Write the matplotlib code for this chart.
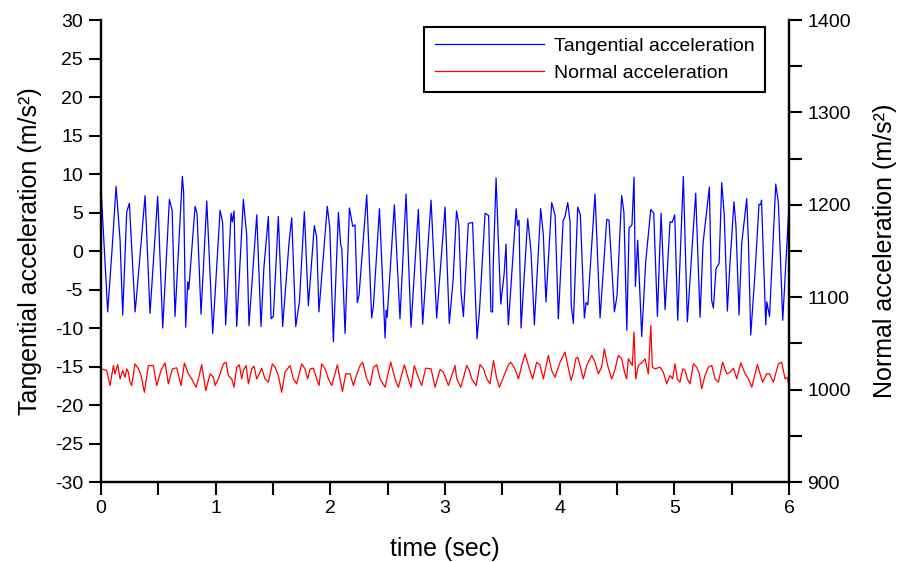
import numpy as np
import matplotlib.pyplot as plt
from matplotlib.ticker import MultipleLocator

plt.rcParams['font.family'] = ['Liberation Sans', 'DejaVu Sans']
plt.rcParams['axes.unicode_minus'] = False

# tangential acceleration (left axis), time in s, value in m/s^2
t_tan = [0.0, 0.058, 0.093, 0.131, 0.166, 0.189, 0.224, 0.247, 0.297, 0.311,
         0.384, 0.427, 0.494, 0.538, 0.596, 0.62, 0.645, 0.709, 0.72, 0.738,
         0.756, 0.765, 0.82, 0.837, 0.872, 0.922, 0.974, 1.038, 1.06, 1.087,
         1.134, 1.145, 1.16, 1.183, 1.241, 1.27, 1.29, 1.358, 1.395, 1.42,
         1.459, 1.483, 1.503, 1.546, 1.584, 1.64, 1.663, 1.698, 1.73, 1.773,
         1.808, 1.86, 1.88, 1.9, 1.973, 1.995, 2.026, 2.07, 2.09, 2.1,
         2.128, 2.166, 2.195, 2.215, 2.235, 2.25, 2.317, 2.36, 2.375, 2.428,
         2.477, 2.487, 2.495, 2.558, 2.607, 2.66, 2.703, 2.767, 2.805, 2.878,
         2.927, 3.0, 3.037, 3.07, 3.1, 3.12, 3.14, 3.16, 3.203, 3.24,
         3.279, 3.3, 3.349, 3.38, 3.4, 3.415, 3.42, 3.445, 3.465, 3.486,
         3.515, 3.532, 3.545, 3.552, 3.62, 3.632, 3.645, 3.663, 3.7, 3.721,
         3.75, 3.779, 3.834, 3.857, 3.88, 3.93, 3.96, 3.988, 4.03, 4.045,
         4.07, 4.09, 4.1, 4.119, 4.157, 4.18, 4.215, 4.23, 4.245, 4.308,
         4.352, 4.41, 4.43, 4.477, 4.5, 4.54, 4.56, 4.585, 4.605, 4.63,
         4.648, 4.66, 4.68, 4.715, 4.75, 4.794, 4.82, 4.852, 4.884, 4.919,
         4.962, 4.98, 5.003, 5.029, 5.078, 5.113, 5.15, 5.186, 5.224, 5.25,
         5.305, 5.325, 5.34, 5.363, 5.39, 5.413, 5.435, 5.462, 5.485, 5.52,
         5.537, 5.564, 5.587, 5.631, 5.645, 5.666, 5.703, 5.738, 5.752, 5.76,
         5.797, 5.806, 5.83, 5.884, 5.907, 5.945, 6.0]
a_tan = [8.1, -7.9, -0.5, 8.4, 1.4, -8.3, 5.1, 6.2, -7.9, -5.7,
         7.2, -8.1, 7.1, -10.0, 6.7, 5.3, -8.5, 9.7, 7.7, -9.9,
         -4.0, -5.0, 5.8, 4.9, -8.2, 6.5, -10.7, 5.3, 3.7, -9.6,
         4.9, 3.8, 5.2, -9.8, 6.7, 2.1, -9.7, 4.7, -9.8, -2.2,
         4.5, -8.8, -8.5, 4.5, -9.8, 1.2, 4.3, -9.8, -6.6, 5.1,
         -7.1, 3.3, 1.8, -7.9, 5.8, 3.0, -11.8, 5.0, 0.8, 0.3,
         -10.7, 5.6, 3.2, 3.4, -6.7, -5.7, 7.3, -8.7, -7.2, 5.5,
         -11.3, -7.7, -8.6, 6.0, -8.8, 7.4, -9.9, 5.4, -9.5, 6.6,
         -8.7, 5.7, -9.4, -3.8, 5.2, 3.5, -5.5, -8.5, 3.6, 3.7,
         -11.4, -7.8, 4.9, 4.6, -7.9, -7.9, -2.0, 9.5, 1.2, -6.9,
         -3.0, 0.9, -7.0, -9.6, 5.5, 3.3, 4.0, -10.0, -0.8, 4.2,
         -0.1, -9.6, 5.5, 2.1, -6.6, 6.3, 4.6, -8.8, 4.0, 4.4,
         6.3, 3.8, -7.0, -9.4, 5.7, 4.7, -8.7, -6.7, -7.0, 7.4,
         -8.7, 4.1, 4.0, -7.9, -5.8, 7.2, 5.0, -10.3, 3.0, 3.4,
         9.6, -4.6, 1.4, -11.1, -1.4, 5.4, 4.9, -8.5, 4.9, -7.6,
         3.8, 3.7, 4.7, -9.0, 9.7, -9.2, -0.6, 7.5, -8.6, 1.0,
         8.3, -6.4, -7.4, -2.3, -1.6, 8.9, 4.6, -7.8, -1.5, 6.4,
         3.2, -8.3, 1.0, 6.8, 1.5, -10.9, -2.9, 6.1, 6.0, 6.6,
         -9.6, -6.6, -8.5, 8.7, 6.3, -9.0, 6.0]

# normal acceleration (right axis)
t_nor = [0.0, 0.049, 0.078, 0.108, 0.122, 0.145, 0.166, 0.189, 0.209, 0.224,
         0.238, 0.253, 0.267, 0.296, 0.326, 0.349, 0.378, 0.413, 0.456, 0.486,
         0.523, 0.558, 0.587, 0.622, 0.66, 0.698, 0.727, 0.762, 0.791, 0.828,
         0.849, 0.878, 0.913, 0.951, 0.98, 0.994, 1.023, 1.067, 1.09, 1.11,
         1.139, 1.16, 1.183, 1.206, 1.227, 1.241, 1.265, 1.285, 1.314, 1.334,
         1.357, 1.381, 1.401, 1.43, 1.459, 1.494, 1.517, 1.546, 1.575, 1.605,
         1.648, 1.677, 1.706, 1.75, 1.779, 1.802, 1.823, 1.852, 1.881, 1.901,
         1.924, 1.954, 1.983, 2.012, 2.061, 2.084, 2.105, 2.134, 2.171, 2.201,
         2.224, 2.259, 2.282, 2.317, 2.346, 2.375, 2.404, 2.433, 2.477, 2.526,
         2.564, 2.593, 2.645, 2.68, 2.703, 2.732, 2.761, 2.796, 2.831, 2.878,
         2.913, 2.956, 2.985, 3.009, 3.029, 3.058, 3.087, 3.102, 3.137, 3.166,
         3.189, 3.212, 3.233, 3.271, 3.305, 3.335, 3.364, 3.392, 3.422, 3.451,
         3.474, 3.509, 3.552, 3.573, 3.61, 3.64, 3.669, 3.698, 3.727, 3.764,
         3.799, 3.828, 3.857, 3.901, 3.93, 3.959, 3.983, 4.003, 4.046, 4.07,
         4.099, 4.119, 4.14, 4.157, 4.177, 4.206, 4.235, 4.279, 4.308, 4.337,
         4.366, 4.389, 4.418, 4.453, 4.482, 4.511, 4.54, 4.569, 4.584, 4.598,
         4.633, 4.648, 4.663, 4.686, 4.721, 4.744, 4.773, 4.794, 4.808, 4.831,
         4.875, 4.904, 4.933, 4.962, 4.985, 5.006, 5.026, 5.049, 5.073, 5.093,
         5.113, 5.136, 5.165, 5.194, 5.218, 5.238, 5.267, 5.297, 5.326, 5.355,
         5.384, 5.421, 5.456, 5.486, 5.515, 5.544, 5.579, 5.617, 5.646, 5.675,
         5.724, 5.747, 5.77, 5.805, 5.829, 5.863, 5.907, 5.936, 5.965, 5.985,
         6.0]
a_nor = [1022.5, 1020.7, 1004.4, 1026.1, 1017.1, 1027.2, 1011.6, 1020.7, 1013.4, 1022.5,
         1018.9, 1008.0, 1004.4, 1027.9, 1022.5, 1015.3, 997.1, 1026.1, 1026.1, 1004.4,
         1020.7, 1029.0, 1006.2, 1022.5, 1023.6, 1004.4, 1028.7, 1017.1, 1011.6, 1002.6,
         1011.6, 1027.2, 998.9, 1017.1, 1013.4, 1004.4, 1011.6, 1027.9, 1029.7, 1015.3,
         1011.6, 1002.6, 1024.3, 1026.8, 1011.6, 1020.7, 1026.1, 1006.2, 1022.5, 1025.4,
         1011.6, 1017.1, 1023.2, 1011.6, 1008.0, 1027.9, 1024.3, 1015.3, 997.1, 1018.9,
         1026.1, 1011.6, 1006.2, 1027.9, 1022.5, 1011.6, 1022.5, 1023.2, 1011.6, 1004.4,
         1027.9, 1022.5, 1011.6, 1004.4, 1026.8, 1011.6, 997.9, 1017.1, 1017.1, 1004.4,
         1014.5, 1026.1, 1029.7, 1011.6, 1004.4, 1024.3, 1026.8, 1011.6, 1002.6, 1029.7,
         1011.6, 1002.6, 1026.8, 1011.6, 1002.6, 1026.1, 1015.3, 1004.4, 1023.2, 1022.5,
         1002.6, 1021.8, 1018.9, 1011.6, 1004.4, 1015.3, 1026.1, 1011.6, 1002.6, 1015.3,
         1026.1, 1020.7, 1011.6, 1004.4, 1027.2, 1022.5, 1011.6, 1006.2, 1031.6, 1011.6,
         1002.6, 1013.4, 1026.8, 1029.7, 1022.5, 1011.6, 1026.1, 1038.8, 1026.1, 1011.6,
         1029.7, 1026.8, 1011.6, 1037.0, 1020.7, 1013.4, 1022.5, 1029.7, 1040.6, 1026.1,
         1009.8, 1018.9, 1033.4, 1035.2, 1026.1, 1011.6, 1026.1, 1037.0, 1029.7, 1017.1,
         1024.3, 1044.2, 1026.1, 1011.6, 1021.8, 1037.0, 1033.4, 1017.1, 1011.6, 1033.4,
         1026.1, 1062.3, 1011.6, 1026.1, 1029.7, 1033.4, 1017.1, 1069.6, 1024.3, 1022.5,
         1024.3, 1018.9, 1006.2, 1015.3, 1011.6, 1027.9, 1011.6, 1008.0, 1022.5, 1020.7,
         1011.6, 1006.2, 1027.9, 1024.3, 1017.1, 1000.8, 1015.3, 1024.3, 1026.1, 1011.6,
         1008.0, 1029.7, 1017.1, 1018.9, 1023.2, 1011.6, 1029.0, 1017.1, 1011.6, 1002.6,
         1027.2, 1017.1, 1008.0, 1017.1, 1017.1, 1008.0, 1027.9, 1029.7, 1011.6, 1013.4,
         1002.6]

fig = plt.figure(figsize=(8.99, 5.62), dpi=100)
ax = fig.add_axes([0.1124, 0.1423, 0.7653, 0.8221])
ax2 = ax.twinx()

l1, = ax.plot(t_tan, a_tan, color='#0000ff', lw=0.9, label='Tangential acceleration')
l2, = ax2.plot(t_nor, a_nor, color='#ff0000', lw=0.9, label='Normal acceleration')

ax.set_xlim(0, 6)
ax.set_ylim(-30, 30)
ax2.set_ylim(900, 1400)

ax.xaxis.set_major_locator(MultipleLocator(1))
ax.xaxis.set_minor_locator(MultipleLocator(0.5))
ax.yaxis.set_major_locator(MultipleLocator(5))
ax2.yaxis.set_major_locator(MultipleLocator(100))
ax2.yaxis.set_minor_locator(MultipleLocator(50))

for a in (ax, ax2):
    a.spines['top'].set_visible(False)
    for s in a.spines.values():
        s.set_linewidth(1.6)
    a.tick_params(which='both', direction='out', length=9, width=1.5,
                  labelsize=14, pad=4)

ax.set_xlabel('time (sec)', fontsize=18, labelpad=14)
ax.set_ylabel('Tangential acceleration (m/s²)', fontsize=18, labelpad=9)
ax2.set_ylabel('Normal acceleration (m/s²)', fontsize=18, labelpad=16)

leg = ax.legend([l1, l2], [l1.get_label(), l2.get_label()], loc='upper right',
                bbox_to_anchor=(0.965, 0.985), borderaxespad=0, fontsize=14,
                handlelength=5.6, handletextpad=0.5, borderpad=0.55,
                labelspacing=0.45, fancybox=False, framealpha=1,
                edgecolor='black')
leg.get_frame().set_linewidth(1.5)

fig.savefig('out.png', dpi=100)
